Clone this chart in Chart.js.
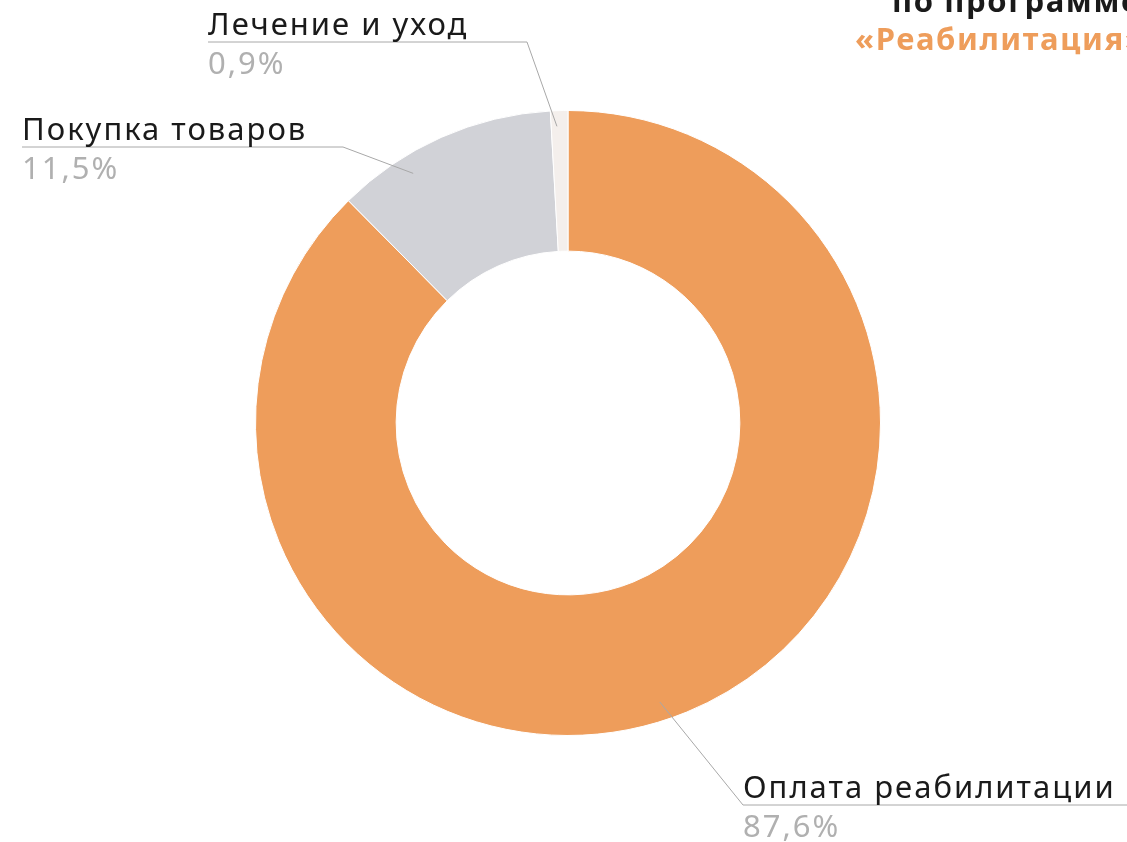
<!DOCTYPE html>
<html>
<head>
<meta charset="utf-8">
<script src="https://cdn.jsdelivr.net/npm/chart.js@4"></script>
<style>
    html, body { margin: 0; padding: 0; background: #fff; overflow: hidden; }
    #wrap { position: relative; width: 1127px; height: 842px; }
    .title { position: absolute; white-space: nowrap; font-family: "Noto Sans", sans-serif; font-weight: 700; font-size: 31px; line-height: 31px; letter-spacing: 1.6px; }
</style>
</head>
<body>
<div id="wrap">
    <canvas id="chart" width="1127" height="842"></canvas>
    <div class="title" style="left:892px; top:-15px; color:#1a1a1a;">по программе</div>
    <div class="title" style="left:855px; top:23px; color:#ee9d5b;">«Реабилитация»</div>
</div>
<script>
// data
const categories = ['Оплата реабилитации', 'Покупка товаров', 'Лечение и уход'];
const shares = [87.6, 11.5, 0.9];
const shareLabels = ['87,6%', '11,5%', '0,9%'];
const colors = ['#ee9d5b', '#d1d2d7', '#f4efec'];

// label layout: where the leader starts inside the slice, the elbow and the text line
const callouts = [
    { frac: 0.513, rad: 0.94, elbowX: 743, elbowY: 805, lineTo: 1127, textX: 743 },
    { frac: 0.31, rad: 0.94, elbowX: 343, elbowY: 147, lineTo: 22, textX: 22 },
    { frac: 0.34, rad: 0.95, elbowX: 527, elbowY: 42, lineTo: 208, textX: 208 }
];

const calloutPlugin = {
    id: 'callouts',
    afterDatasetsDraw(chart) {
        const ctx = chart.ctx;
        const meta = chart.getDatasetMeta(0);
        meta.data.forEach((arc, i) => {
            const c = callouts[i];
            const p = arc.getProps(['x', 'y', 'startAngle', 'endAngle', 'outerRadius'], true);
            const a = p.startAngle + (p.endAngle - p.startAngle) * c.frac;
            const sx = p.x + Math.cos(a) * p.outerRadius * c.rad;
            const sy = p.y + Math.sin(a) * p.outerRadius * c.rad;

            ctx.save();
            ctx.strokeStyle = '#a8a8a8';
            ctx.lineWidth = 1;
            ctx.beginPath();
            ctx.moveTo(sx, sy);
            ctx.lineTo(c.elbowX, c.elbowY);
            ctx.lineTo(c.lineTo, c.elbowY);
            ctx.stroke();

            ctx.font = '31px "Noto Sans", sans-serif';
            ctx.letterSpacing = '2px';
            ctx.textAlign = 'left';
            ctx.textBaseline = 'alphabetic';
            ctx.fillStyle = '#1a1a1a';
            ctx.fillText(categories[i], c.textX, c.elbowY - 7);
            ctx.fillStyle = '#b0b0b0';
            ctx.fillText(shareLabels[i], c.textX, c.elbowY + 32);
            ctx.restore();
        });
    }
};

new Chart(document.getElementById('chart').getContext('2d'), {
    type: 'doughnut',
    data: {
        labels: categories,
        datasets: [{
            data: shares,
            backgroundColor: colors,
            borderColor: '#ffffff',
            borderWidth: 1
        }]
    },
    options: {
        responsive: false,
        animation: false,
        cutout: '55%',
        layout: { padding: { top: 110, bottom: 106, left: 255, right: 246 } },
        plugins: {
            legend: { display: false },
            tooltip: { enabled: false }
        }
    },
    plugins: [calloutPlugin]
});
</script>
</body>
</html>
